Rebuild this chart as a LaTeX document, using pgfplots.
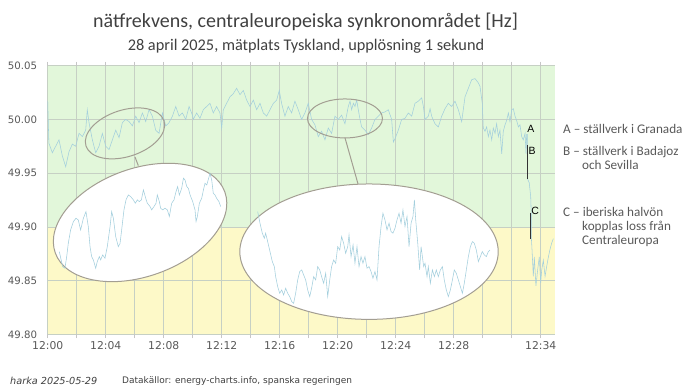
\documentclass[border=0pt]{standalone}
\usepackage{pgfplots}
\pgfplotsset{compat=1.18}
\usepackage{fontspec}
\setmainfont{Carlito}
\newfontfamily\dv{DejaVu Sans}
\newfontfamily\lib{Liberation Sans}
\definecolor{bggreen}{HTML}{E2F7DA}
\definecolor{bgyellow}{HTML}{FDF9C8}
\definecolor{gridc}{HTML}{C6D0C4}
\definecolor{linec}{HTML}{A3CFDD}
\definecolor{ellc}{HTML}{A39E92}
\definecolor{txt}{HTML}{404040}
\definecolor{tick}{HTML}{595959}
\begin{document}
\begin{tikzpicture}[x=1bp,y=1bp]
\useasboundingbox (0,0) rectangle (700,388);
\fill[bgyellow] (47.7,53.7) rectangle (555.2,161.14);
\fill[bggreen] (47.7,161.14) rectangle (555.2,322.3);
\begin{axis}[
  at={(47.7bp,53.7bp)}, anchor=south west, scale only axis,
  width=507.5bp, height=268.6bp,
  xmin=0, xmax=35, ymin=49.80, ymax=50.05,
  axis line style={draw=none},
  xtick={0,2,...,34},
  xticklabels={12:00,,12:04,,12:08,,12:12,,12:16,,12:20,,12:24,,12:28,,,12:34},
  ytick={49.80,49.85,49.90,49.95,50.00,50.05},
  yticklabels={49.80,49.85,49.90,49.95,50.00,50.05},
  grid=major, grid style={gridc, line width=0.7bp},
  xtick style={draw=gray!45, line width=0.7bp}, ytick style={draw=none},
  tick align=outside, major tick length=4bp,
  x tick label style={font=\dv\fontsize{10.8bp}{12bp}\selectfont, text=tick},
  y tick label style={font=\dv\fontsize{10.2bp}{12bp}\selectfont, text=tick, xshift=-3bp},
]
% main series
\addplot[linec, line width=0.55bp, no marks] coordinates {
(0.00,50.017)(0.08,49.978)(0.32,49.969)(0.55,49.975)(0.78,49.981)(1.01,49.966)(1.24,49.956)(1.47,49.970)(1.70,49.977)(1.93,49.975)
(2.16,49.987)(2.39,49.984)(2.62,49.990)(2.73,50.009)(2.85,49.997)(3.08,49.981)(3.31,49.969)(3.54,49.975)(3.77,49.987)(4.00,49.975)
(4.23,49.972)(4.46,49.981)(4.69,49.990)(4.92,49.983)(5.15,49.997)(5.38,50.000)(5.61,49.998)(5.84,49.994)(6.07,50.003)(6.30,49.997)
(6.53,50.006)(6.76,49.998)(6.99,50.009)(7.22,50.003)(7.45,49.990)(7.68,49.987)(7.91,50.006)(8.14,49.994)(8.37,49.997)(8.60,50.003)
(8.83,50.012)(9.06,50.003)(9.29,50.006)(9.52,50.000)(9.75,50.012)(9.98,50.004)(10.04,50.000)(10.27,50.006)(10.50,50.001)(10.73,50.009)
(10.96,50.012)(11.19,50.015)(11.42,50.006)(11.65,50.012)(11.88,50.006)(12.00,49.992)(12.11,50.009)(12.34,50.015)(12.57,50.021)(12.80,50.024)
(13.03,50.029)(13.26,50.023)(13.49,50.027)(13.72,50.018)(13.95,50.012)(14.18,50.018)(14.41,50.009)(14.64,50.015)(14.87,50.006)(15.10,50.003)
(15.33,50.009)(15.56,50.015)(15.79,50.018)(15.97,50.027)(16.13,50.015)(16.36,50.003)(16.59,50.012)(16.82,50.006)(17.05,50.017)(17.28,50.009)
(17.51,50.000)(17.74,50.006)(17.97,50.015)(18.20,50.000)(18.43,49.995)(18.66,49.984)(18.89,49.989)(19.12,49.981)(19.35,49.992)(19.58,49.987)
(19.81,50.003)(20.04,50.000)(20.27,50.004)(20.50,49.996)(20.73,50.012)(20.85,50.017)(20.96,50.009)(21.08,50.015)(21.19,50.012)(21.31,50.018)
(21.42,50.009)(21.54,50.000)(21.65,49.993)(21.88,49.990)(22.11,49.986)(22.34,49.992)(22.57,50.000)(22.80,50.003)(23.03,50.006)(23.26,50.007)
(23.49,50.009)(23.72,50.000)(23.84,49.979)(23.95,49.982)(24.18,49.990)(24.41,50.000)(24.64,50.001)(24.87,50.006)(25.10,50.003)(25.33,50.015)
(25.56,50.017)(25.79,50.020)(25.91,50.012)(26.02,50.000)(26.25,50.003)(26.37,50.010)(26.48,50.003)(26.71,49.996)(26.94,49.993)(27.17,50.003)
(27.40,50.010)(27.63,50.015)(27.86,50.012)(28.09,50.017)(28.32,50.009)(28.55,49.998)(28.78,50.021)(29.01,50.029)(29.24,50.037)(29.47,50.038)
(29.70,50.034)(29.81,50.031)(29.97,50.015)(30.04,49.992)(30.16,49.989)(30.27,49.993)(30.39,49.984)(30.50,49.990)(30.62,49.981)(30.73,49.992)
(30.85,49.987)(30.96,49.996)(31.08,49.984)(31.19,49.990)(31.31,49.968)(31.42,49.989)(31.54,49.995)(31.65,49.999)(31.77,50.006)(31.88,49.998)
(32.00,50.009)(32.11,50.010)(32.23,50.003)(32.34,49.999)(32.46,49.993)(32.57,49.995)(32.69,49.984)(32.80,49.981)(32.92,49.987)(32.99,49.968)
(33.03,49.986)(33.08,49.986)(33.08,49.945)(33.21,49.941)(33.31,49.928)(33.35,49.911)(33.35,49.891)(33.40,49.879)(33.49,49.854)(33.56,49.872)
(33.67,49.845)(33.79,49.860)(33.90,49.872)(34.00,49.848)(34.07,49.860)(34.18,49.869)(34.30,49.854)(34.41,49.863)(34.53,49.872)(34.64,49.879)
(34.76,49.885)(34.87,49.889)
};
% small ellipses
\draw[ellc, line width=1bp, rotate around={17.8:(axis cs:5.33,49.987)}] (axis cs:5.33,49.987) ellipse [x radius=41bp, y radius=23.3bp];
\draw[ellc, line width=1bp] (axis cs:20.50,50.0009) ellipse [x radius=37.5bp, y radius=19.5bp];
% connectors
\draw[ellc, line width=1bp] (axis cs:6.02,49.965) -- (axis cs:6.25,49.957);
\draw[ellc, line width=1bp] (axis cs:20.50,49.983) -- (axis cs:21.40,49.940);
% big ellipses
\draw[ellc, fill=white, line width=1bp, rotate around={19.8:(axis cs:6.37,49.9041)}] (axis cs:6.37,49.9041) ellipse [x radius=90.1bp, y radius=53.9bp];
\draw[ellc, fill=white, line width=1bp] (axis cs:22.16,49.8769) ellipse [x radius=129.2bp, y radius=67.7bp];
% inset 1
\addplot[linec, line width=0.55bp, no marks] coordinates {
(0.80,49.877)(1.03,49.863)(1.19,49.8615)(1.31,49.8723)(1.42,49.8847)(1.58,49.8971)(1.77,49.9049)(1.95,49.9080)(2.11,49.9064)(2.27,49.8971)
(2.46,49.9080)(2.64,49.9142)(2.80,49.9002)(2.92,49.8816)(3.03,49.8723)(3.15,49.8692)(3.31,49.8615)(3.42,49.8677)(3.56,49.8723)(3.65,49.8692)
(3.79,49.8739)(3.95,49.8708)(4.11,49.8816)(4.30,49.9002)(4.41,49.9142)(4.53,49.9080)(4.69,49.8909)(4.87,49.8816)(4.99,49.8847)(5.10,49.8971)
(5.26,49.9158)(5.40,49.9251)(5.56,49.9297)(5.72,49.9282)(5.91,49.9251)(6.04,49.9220)(6.18,49.9251)(6.32,49.9235)(6.46,49.9251)(6.60,49.9344)
(6.76,49.9266)(6.87,49.9220)(7.06,49.9189)(7.17,49.9158)(7.33,49.9189)(7.47,49.9220)(7.56,49.9297)(7.70,49.9235)(7.79,49.9173)(7.93,49.9158)
(8.09,49.9173)(8.25,49.9158)(8.39,49.9096)(8.55,49.9220)(8.71,49.9251)(8.85,49.9328)(8.96,49.9375)(9.08,49.9297)(9.24,49.9359)(9.36,49.9452)
(9.47,49.9437)(9.59,49.9375)(9.70,49.9359)(9.82,49.9297)(10.00,49.9235)(10.16,49.9158)(10.23,49.9049)(10.32,49.9096)(10.46,49.9220)(10.62,49.9266)
(10.74,49.9344)(10.85,49.9406)(10.97,49.9390)(11.10,49.9452)(11.19,49.9499)(11.31,49.9437)(11.42,49.9313)(11.54,49.9297)(11.65,49.9266)(11.81,49.9235)
(11.93,49.9189)
};
% inset 2
\addplot[linec, line width=0.55bp, no marks] coordinates {
(14.48,49.9142)(14.64,49.9034)(14.80,49.8941)(14.94,49.8894)(15.03,49.8941)(15.17,49.8863)(15.33,49.8770)(15.49,49.8677)(15.63,49.8630)(15.72,49.8537)
(15.86,49.8444)(16.00,49.8382)(16.14,49.8413)(16.27,49.8366)(16.41,49.8429)(16.55,49.8382)(16.69,49.8351)(16.83,49.8304)(16.96,49.8289)(17.10,49.8382)
(17.24,49.8506)(17.38,49.8584)(17.52,49.8599)(17.65,49.8553)(17.79,49.8506)(17.93,49.8413)(18.07,49.8351)(18.20,49.8429)(18.34,49.8537)(18.48,49.8506)
(18.62,49.8630)(18.76,49.8599)(18.89,49.8537)(19.03,49.8475)(19.17,49.8568)(19.31,49.8351)(19.45,49.8506)(19.58,49.8630)(19.72,49.8692)(19.86,49.8661)
(20.00,49.8816)(20.14,49.8785)(20.27,49.8910)(20.41,49.8847)(20.55,49.8754)(20.69,49.8816)(20.78,49.8925)(20.92,49.8723)(21.06,49.8832)(21.19,49.8661)
(21.33,49.8816)(21.47,49.8630)(21.61,49.8723)(21.74,49.8661)(21.88,49.8723)(22.02,49.8615)(22.16,49.8630)(22.30,49.8584)(22.43,49.8522)(22.57,49.8584)
(22.71,49.8506)(22.85,49.8816)(22.99,49.9003)(23.12,49.9127)(23.26,49.9065)(23.40,49.8972)(23.54,49.9034)(23.68,49.8956)(23.81,49.8941)(23.95,49.8987)
(24.09,49.9065)(24.23,49.9127)(24.37,49.9034)(24.50,49.9158)(24.64,49.9003)(24.78,49.9096)(24.92,49.8816)(25.06,49.9034)(25.19,49.9096)(25.29,49.9251)
(25.38,49.9065)(25.52,49.8847)(25.65,49.8599)(25.75,49.8816)(25.84,49.8723)(25.93,49.8630)(26.02,49.8661)(26.16,49.8537)(26.25,49.8630)(26.39,49.8475)
(26.53,49.8599)(26.67,49.8537)(26.80,49.8599)(26.94,49.8537)(27.08,49.8599)(27.22,49.8630)(27.35,49.8506)(27.49,49.8413)(27.63,49.8351)(27.77,49.8413)
(27.91,49.8506)(28.04,49.8599)(28.18,49.8568)(28.32,49.8506)(28.46,49.8444)(28.60,49.8382)(28.73,49.8475)(28.87,49.8599)(29.01,49.8723)(29.15,49.8816)
(29.29,49.8863)(29.42,49.8847)(29.56,49.8785)(29.70,49.8677)(29.84,49.8723)(29.97,49.8770)(30.11,49.8739)(30.25,49.8723)(30.39,49.8770)(30.50,49.8785)
};
% event segments
\addplot[black!80, line width=1bp, no marks] coordinates {(33.08,49.976)(33.08,49.945)};
\addplot[black!80, line width=1bp, no marks] coordinates {(33.33,49.913)(33.33,49.889)};
\node[font=\lib\fontsize{10.5bp}{12bp}\selectfont, inner sep=0pt] at (axis cs:33.33,49.991) {A};
\node[font=\lib\fontsize{10.5bp}{12bp}\selectfont, inner sep=0pt] at (axis cs:33.40,49.971) {B};
\node[font=\lib\fontsize{10.5bp}{12bp}\selectfont, inner sep=0pt] at (axis cs:33.61,49.915) {C};
\end{axis}
% titles
\node[font=\fontsize{20bp}{24bp}\selectfont, text=txt, inner sep=0pt] at (305.5,366) {nätfrekvens, centraleuropeiska synkronområdet [Hz]};
\node[font=\fontsize{16.3bp}{19bp}\selectfont, text=txt, inner sep=0pt] at (306,342) {28 april 2025, mätplats Tyskland, upplösning 1 sekund};
% legend text
\begin{scope}[every node/.style={font=\fontsize{13.2bp}{15bp}\selectfont, text=tick, inner sep=0pt, anchor=base west}]
\node at (563,254.4) {A – ställverk i Granada};
\node at (563,233) {B – ställverk i Badajoz};
\node at (582,219) {och Sevilla};
\node at (563,171.7) {C – iberiska halvön};
\node at (582,157.7) {kopplas loss från};
\node at (582,143.7) {Centraleuropa};
\end{scope}
% footer
\node[font=\dv\itshape\fontsize{9.7bp}{11bp}\selectfont, text=txt, inner sep=0pt, anchor=west] at (10,7) {harka 2025-05-29};
\node[font=\dv\fontsize{9bp}{11bp}\selectfont, text=txt, inner sep=0pt, anchor=west] at (122,7) {Datakällor: energy-charts.info, spanska regeringen};
\end{tikzpicture}
\end{document}
